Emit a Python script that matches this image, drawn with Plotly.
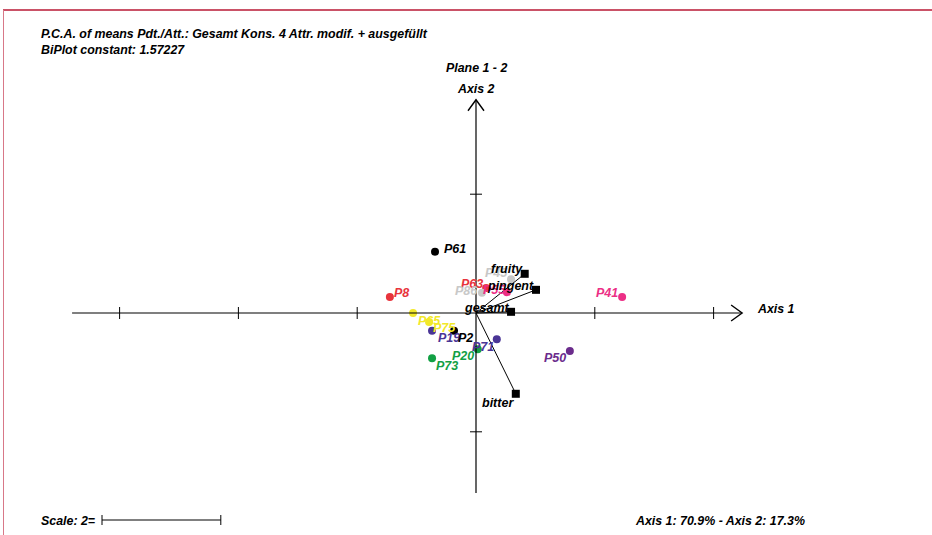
import plotly.graph_objects as go

# ---------------- data ----------------
prod_names = ["P61", "P8", "P63", "P86", "P55", "P45", "P41", "P50", "P71",
              "P20", "P73", "P19", "P65", "P75", "P2"]
prod_ax1 = [-0.69, -1.45, 0.17, 0.10, 0.52, 0.59, 2.46, 1.58, 0.35,
            0.03, -0.74, -0.74, -1.06, -0.79, -0.37]
prod_ax2 = [1.03, 0.27, 0.42, 0.34, 0.35, 0.57, 0.27, -0.64, -0.44,
            -0.61, -0.76, -0.30, 0.00, -0.15, -0.30]

attr_names = ["fruity", "pingent", "gesamt", "bitter"]
attr_ax1 = [0.82, 1.01, 0.59, 0.67]
attr_ax2 = [0.66, 0.39, 0.02, -1.36]

x_ticks = [-6, -4, -2, 2, 4]
y_ticks = [-2, 2]
scale_len = 2

# ---------------- styles ----------------
RED = "#e8343c"
PINK = "#ec2f86"
GRAY = "#c8c8c8"
INDIGO = "#4a3596"
PURPLE = "#6b2c8c"
GREEN = "#12a044"
YELLOW = "#f2e82a"
BLACK = "#000000"

prod_colors = {"P61": BLACK, "P8": RED, "P63": RED, "P86": GRAY, "P55": PINK,
               "P45": GRAY, "P41": PINK, "P50": PURPLE, "P71": INDIGO,
               "P20": GREEN, "P73": GREEN, "P19": INDIGO, "P65": YELLOW,
               "P75": YELLOW, "P2": BLACK}
# label offsets in pixels (dx right, dy down)
prod_label_off = {"P61": (20, -3), "P8": (12, -4), "P63": (-14, -4),
                  "P86": (-15, -2), "P55": (-12, -2), "P45": (-15, -6),
                  "P41": (-15, -4), "P50": (-15, 7), "P71": (-14, 8),
                  "P20": (-15, 7), "P73": (15, 8), "P19": (17, 7),
                  "P65": (16, 8), "P75": (15, 6), "P2": (11, 7)}
attr_label_off = {"fruity": (-18, -5), "pingent": (-25, -4),
                  "gesamt": (-24, -4), "bitter": (-18, 9)}

FONT = "Liberation Sans, Arial, sans-serif"
W, H = 932, 535
S = 59.4          # pixels per unit
OX, OY = 476, 313  # origin pixel
xr = [-OX / S, (W - OX) / S]
yr = [-(H - OY) / S, OY / S]

fig = go.Figure()
shapes = []
annotations = []

def u(px):
    return px / S

# axes lines
x_min, x_max = -6.80, 4.48
y_min, y_max = -3.03, 3.59
shapes.append(dict(type="line", xref="x", yref="y", x0=x_min, x1=x_max, y0=0, y1=0,
                   line=dict(color=BLACK, width=1.2)))
shapes.append(dict(type="line", xref="x", yref="y", x0=0, x1=0, y0=y_min, y1=y_max,
                   line=dict(color=BLACK, width=1.2)))
# arrow heads
shapes.append(dict(type="path", xref="x", yref="y",
                   path=f"M {x_max-u(11)},{u(8)} L {x_max},0 L {x_max-u(11)},{-u(8)}",
                   line=dict(color=BLACK, width=1.4)))
shapes.append(dict(type="path", xref="x", yref="y",
                   path=f"M {-u(8)},{y_max-u(11)} L 0,{y_max} L {u(8)},{y_max-u(11)}",
                   line=dict(color=BLACK, width=1.4)))
# ticks
for t in x_ticks:
    shapes.append(dict(type="line", xref="x", yref="y", x0=t, x1=t, y0=-u(6), y1=u(6),
                       line=dict(color=BLACK, width=1)))
for t in y_ticks:
    shapes.append(dict(type="line", xref="x", yref="y", x0=-u(6), x1=u(6), y0=t, y1=t,
                       line=dict(color=BLACK, width=1)))

# attribute vectors
for n, a1, a2 in zip(attr_names, attr_ax1, attr_ax2):
    shapes.append(dict(type="line", xref="x", yref="y", x0=0, y0=0, x1=a1, y1=a2,
                       line=dict(color=BLACK, width=1)))

# scale bar
sb_x0 = u(102 - OX)
sb_y = -u(520 - OY)
shapes.append(dict(type="line", xref="x", yref="y", x0=sb_x0, x1=sb_x0 + scale_len,
                   y0=sb_y, y1=sb_y, line=dict(color=BLACK, width=1)))
for xx in (sb_x0, sb_x0 + scale_len):
    shapes.append(dict(type="line", xref="x", yref="y", x0=xx, x1=xx,
                       y0=sb_y - u(5), y1=sb_y + u(5), line=dict(color=BLACK, width=1)))

# frame
shapes.append(dict(type="line", xref="paper", yref="paper", x0=3 / W, x1=1,
                   y0=1 - 10 / H, y1=1 - 10 / H, line=dict(color="#b81834", width=1.6)))
shapes.append(dict(type="line", xref="paper", yref="paper", x0=3.5 / W, x1=3.5 / W,
                   y0=0, y1=1 - 10 / H, line=dict(color="#d87888", width=1)))

# product points
fig.add_trace(go.Scatter(x=prod_ax1, y=prod_ax2, mode="markers",
                         marker=dict(size=8, color=[prod_colors[n] for n in prod_names],
                                     line=dict(width=0)),
                         hoverinfo="text", text=prod_names, showlegend=False))
# attribute squares
fig.add_trace(go.Scatter(x=attr_ax1, y=attr_ax2, mode="markers",
                         marker=dict(size=8, symbol="square", color=BLACK),
                         hoverinfo="text", text=attr_names, showlegend=False))

for n, a1, a2 in zip(prod_names, prod_ax1, prod_ax2):
    dx, dy = prod_label_off[n]
    annotations.append(dict(x=a1, y=a2, xref="x", yref="y", text=f"<b><i>{n}</i></b>",
                            showarrow=False, xshift=dx, yshift=-dy,
                            font=dict(family=FONT, size=12.5, color=prod_colors[n])))
for n, a1, a2 in zip(attr_names, attr_ax1, attr_ax2):
    dx, dy = attr_label_off[n]
    annotations.append(dict(x=a1, y=a2, xref="x", yref="y", text=f"<b><i>{n}</i></b>",
                            showarrow=False, xshift=dx, yshift=-dy,
                            font=dict(family=FONT, size=12.5, color=BLACK)))

def ptxt(text, px, py, anchor="left", size=12.4):
    annotations.append(dict(x=px / W, y=1 - py / H, xref="paper", yref="paper",
                            text=f"<b><i>{text}</i></b>", showarrow=False,
                            xanchor=anchor, yanchor="middle",
                            font=dict(family=FONT, size=size, color=BLACK)))

ptxt("P.C.A. of means Pdt./Att.: Gesamt Kons. 4 Attr. modif. + ausgefüllt", 39, 34)
ptxt("BiPlot constant: 1.57227", 39, 50)
ptxt("Plane 1 - 2", 476, 68, anchor="center")
ptxt("Axis 2", 476, 89, anchor="center")
ptxt("Axis 1", 755, 309)
ptxt("Scale: 2=", 39, 521)
ptxt("Axis 1: 70.9% - Axis 2: 17.3%", 633, 521)

fig.update_layout(width=W, height=H, margin=dict(l=0, r=0, t=0, b=0),
                  paper_bgcolor="white", plot_bgcolor="white",
                  xaxis=dict(range=xr, visible=False, fixedrange=True),
                  yaxis=dict(range=yr, visible=False, fixedrange=True),
                  shapes=shapes, annotations=annotations)

fig.write_html("out.html", config={"displayModeBar": False},
               post_script="document.body.style.margin='0';document.body.style.overflow='hidden';")
